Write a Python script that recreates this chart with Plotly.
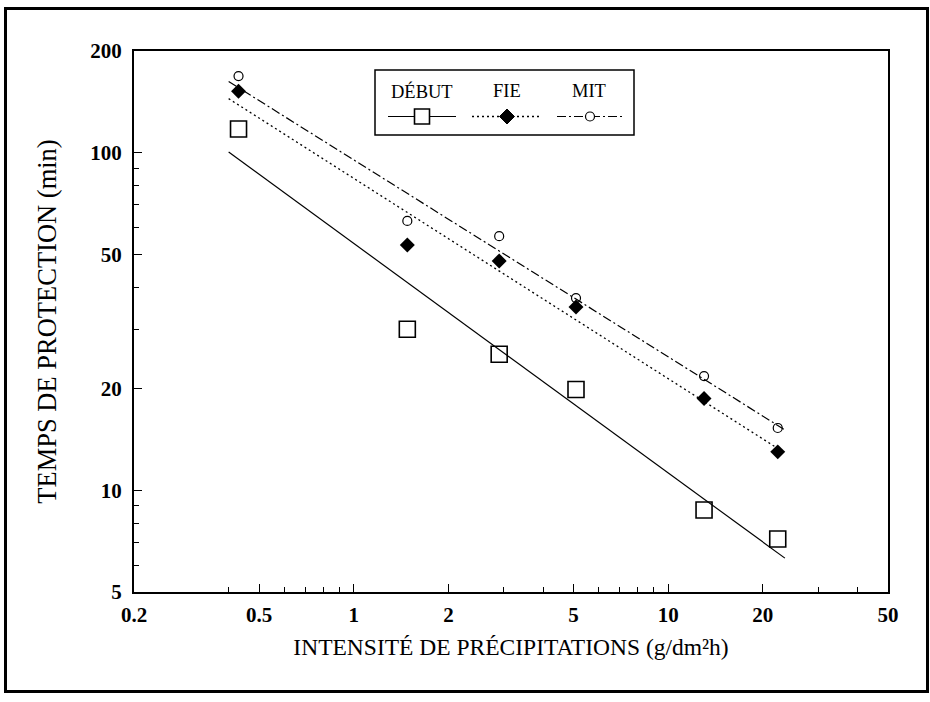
import plotly.graph_objects as go

# ---- data ----
intensity = [0.43, 1.48, 2.9, 5.09, 13.0, 22.3]          # g/dm²h
debut = [117.5, 30.0, 25.3, 19.9, 8.75, 7.18]             # min
fie = [152.0, 53.3, 47.8, 34.9, 18.7, 13.0]
mit = [168.6, 62.8, 56.6, 37.1, 21.8, 15.3]

fit_x = [0.40, 23.5]
debut_fit = [100.4, 6.3]
fie_fit = [144.5, 12.9]
mit_fit = [162.4, 15.1]

x_ticks = [0.2, 0.5, 1, 2, 5, 10, 20, 50]
x_tick_labels = ["0.2", "0.5", "1", "2", "5", "10", "20", "50"]
x_minor = [0.4, 0.6, 0.7, 0.8, 0.9, 3, 4, 6, 7, 8, 9, 30, 40]
y_ticks = [5, 10, 20, 50, 100, 200]
y_tick_labels = ["5", "10", "20", "50", "100", "200"]
y_minor = [6, 7, 8, 9, 30, 40, 60, 70, 80, 90]

legend_names = ["DÉBUT", "FIE", "MIT"]

W, H = 930, 702
L, R, T, B = 134, 42, 51, 110
SERIF = "Liberation Serif, Times New Roman, serif"

fig = go.Figure()

# fitted lines
fig.add_trace(go.Scatter(x=fit_x, y=debut_fit, mode="lines",
                         line=dict(color="black", width=1.2), hoverinfo="skip"))
fig.add_trace(go.Scatter(x=fit_x, y=fie_fit, mode="lines",
                         line=dict(color="black", width=1.3, dash="2px,3px"), hoverinfo="skip"))
fig.add_trace(go.Scatter(x=fit_x, y=mit_fit, mode="lines",
                         line=dict(color="black", width=1.2, dash="9px,3px,2px,3px"), hoverinfo="skip"))

# markers
fig.add_trace(go.Scatter(x=intensity, y=debut, mode="markers", name=legend_names[0],
                         marker=dict(symbol="square-open", size=16, color="black",
                                     line=dict(width=1.6, color="black"))))
fig.add_trace(go.Scatter(x=intensity, y=fie, mode="markers", name=legend_names[1],
                         marker=dict(symbol="diamond", size=11.5, color="black")))
fig.add_trace(go.Scatter(x=intensity, y=mit, mode="markers", name=legend_names[2],
                         marker=dict(symbol="circle-open", size=9, color="black",
                                     line=dict(width=1.2, color="black"))))

def px(x):
    return (x - L) / (W - L - R)

def py(y):
    return 1 - (y - T) / (H - T - B)

shapes = []
# outer frame
shapes.append(dict(type="rect", xref="paper", yref="paper",
                   x0=px(5.5), x1=px(927.5), y0=py(691.5), y1=py(8.5),
                   line=dict(color="black", width=3)))
# legend box
shapes.append(dict(type="rect", xref="paper", yref="paper",
                   x0=px(375), x1=px(634), y0=py(135), y1=py(70),
                   line=dict(color="black", width=1.5), fillcolor="white", layer="above"))
ys = py(116.5)
# legend sample lines
shapes.append(dict(type="line", xref="paper", yref="paper", x0=px(388), x1=px(456), y0=ys, y1=ys,
                   line=dict(color="black", width=1.2), layer="above"))
shapes.append(dict(type="line", xref="paper", yref="paper", x0=px(472), x1=px(541), y0=ys, y1=ys,
                   line=dict(color="black", width=1.3, dash="2px,3px"), layer="above"))
shapes.append(dict(type="line", xref="paper", yref="paper", x0=px(557), x1=px(624), y0=ys, y1=ys,
                   line=dict(color="black", width=1.2, dash="9px,3px,2px,3px"), layer="above"))
# legend sample symbols (pixel-sized)
shapes.append(dict(type="rect", xref="paper", yref="paper", xsizemode="pixel", ysizemode="pixel",
                   xanchor=px(422), yanchor=ys, x0=-7.5, x1=7.5, y0=-7.5, y1=7.5,
                   line=dict(color="black", width=1.6), fillcolor="white", layer="above"))
shapes.append(dict(type="path", xref="paper", yref="paper", xsizemode="pixel", ysizemode="pixel",
                   xanchor=px(507), yanchor=ys, path="M -7.5 0 L 0 7.5 L 7.5 0 L 0 -7.5 Z",
                   line=dict(color="black", width=1), fillcolor="black", layer="above"))
shapes.append(dict(type="circle", xref="paper", yref="paper", xsizemode="pixel", ysizemode="pixel",
                   xanchor=px(590), yanchor=ys, x0=-4.5, x1=4.5, y0=-4.5, y1=4.5,
                   line=dict(color="black", width=1.2), fillcolor="white", layer="above"))

annotations = []
for name, cx in zip(legend_names, [422, 507, 589]):
    annotations.append(dict(text=name, xref="paper", yref="paper", x=px(cx), y=py(91),
                            showarrow=False, xanchor="center", yanchor="middle",
                            font=dict(family=SERIF, size=18.5, color="black")))

axis_common = dict(
    type="log", showgrid=False, zeroline=False,
    showline=True, linecolor="black", linewidth=2, mirror=True,
    ticks="inside", ticklen=8, tickwidth=1.2, tickcolor="black",
    tickmode="array",
    tickfont=dict(family=SERIF, size=21, color="black", weight="bold"),
)

fig.update_layout(
    width=W, height=H,
    margin=dict(l=L, r=R, t=T, b=B),
    paper_bgcolor="white", plot_bgcolor="white",
    showlegend=False,
    shapes=shapes, annotations=annotations,
    xaxis=dict(**axis_common, range=[-0.69897, 1.69897],
               tickvals=x_ticks, ticktext=x_tick_labels, ticklabelstandoff=3,
               minor=dict(tickmode="array", tickvals=x_minor, ticks="inside",
                          ticklen=5, tickwidth=1, tickcolor="black"),
               title=dict(text="INTENSITÉ DE PRÉCIPITATIONS (g/dm²h)", standoff=12,
                          font=dict(family=SERIF, size=23.5, color="black"))),
    yaxis=dict(**axis_common, range=[0.69897, 2.30103],
               tickvals=y_ticks, ticktext=y_tick_labels, ticklabelstandoff=6,
               minor=dict(tickmode="array", tickvals=y_minor, ticks="inside",
                          ticklen=5, tickwidth=1, tickcolor="black"),
               title=dict(text="TEMPS DE PROTECTION (min)", standoff=26,
                          font=dict(family=SERIF, size=26.5, color="black"))),
)

fig.write_html("out.html", config={"displayModeBar": False},
               post_script="document.body.style.margin='0';document.body.style.overflow='hidden';")
